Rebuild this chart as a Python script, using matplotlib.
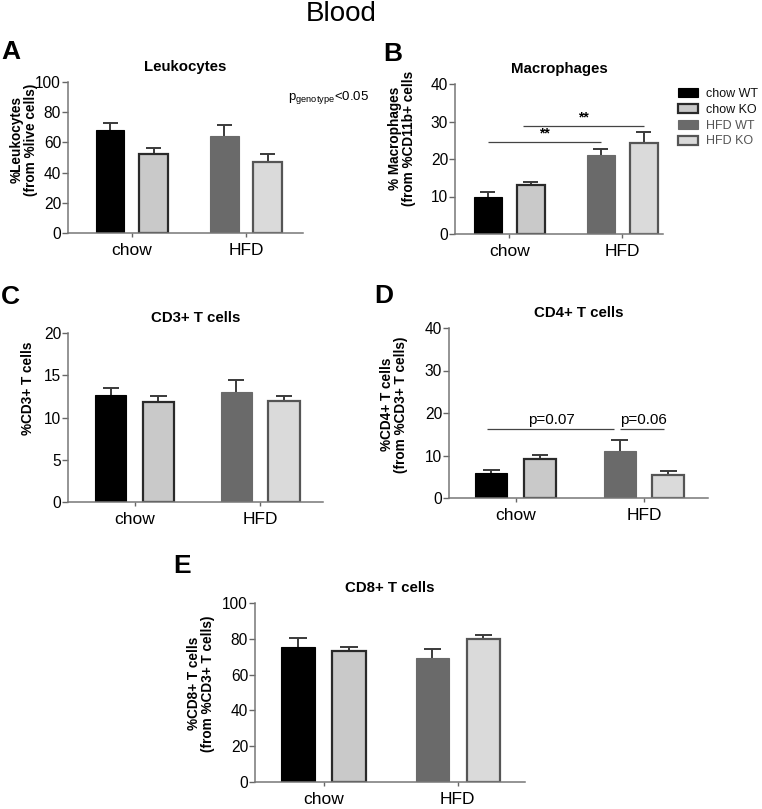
import numpy as np
import matplotlib.pyplot as plt
from matplotlib.patches import Patch

plt.rcParams['font.family'] = ['Liberation Sans', 'DejaVu Sans']
plt.rcParams['mathtext.default'] = 'regular'

groups = ['chow', 'HFD']
series = ['chow WT', 'chow KO', 'HFD WT', 'HFD KO']

leuko = [68, 52, 64, 47]
leuko_err = [5, 4, 7.5, 5]
macro = [10, 13, 21.2, 24.2]
macro_err = [1.3, 1.0, 1.6, 3.0]
cd3 = [12.7, 11.8, 13.0, 12.0]
cd3_err = [0.8, 0.7, 1.4, 0.5]
cd4 = [5.8, 9.1, 11.1, 5.5]
cd4_err = [0.7, 1.1, 2.6, 0.8]
cd8 = [75.5, 73, 69, 80]
cd8_err = [5, 2.5, 5.5, 2]

face = ['#000000', '#c9c9c9', '#6a6a6a', '#dadada']
edge = ['#000000', '#2a2a2a', '#6a6a6a', '#555555']

W, H = 762, 809
fig = plt.figure(figsize=(W / 100, H / 100), dpi=100)


def add_ax(l, t, r, b):
    return fig.add_axes([l / W, 1 - b / H, (r - l) / W, (b - t) / H])


def bars(ax, vals, errs, ymax, step, xlim, title, ylabel, lab_x, lab_y):
    x = np.array([-0.19, 0.19, 0.81, 1.19])
    ax.vlines(x, vals, np.array(vals) + np.array(errs), color='#3a3a3a', lw=1.4, zorder=1)
    ax.hlines(np.array(vals) + np.array(errs), x - 0.065, x + 0.065, color='#3a3a3a', lw=1.4, zorder=1)
    for i in range(4):
        ax.bar(x[i], vals[i], width=0.25, color=face[i], edgecolor=edge[i],
               linewidth=1.6 if i in (1, 3) else 0.8, zorder=2)
    ax.set_xlim(*xlim)
    ax.set_ylim(0, ymax)
    ax.set_yticks(np.arange(0, ymax + 0.1, step))
    ax.set_xticks([0, 1])
    ax.set_xticklabels(groups, fontsize=12.5)
    ax.tick_params(axis='y', labelsize=11.2, length=4, color='#666666', width=1, pad=1)
    ax.tick_params(axis='x', length=3, color='#666666', width=1, pad=4)
    for s in ['top', 'right']:
        ax.spines[s].set_visible(False)
    for s in ['left', 'bottom']:
        ax.spines[s].set_color('#777777')
        ax.spines[s].set_linewidth(1.1)
    ax.set_title(title, fontsize=10.8, fontweight='bold', pad=8)
    ax.set_ylabel(ylabel, fontsize=9.8, fontweight='bold', linespacing=1.0,
                  family=['Liberation Sans Narrow', 'Liberation Sans'])
    # label position: right edge at pixel lab_x
    pos = ax.get_position()
    ax.yaxis.set_label_coords((lab_x / W - pos.x0) / pos.width, lab_y)
    return x


axA = add_ax(68, 82, 303, 233)
bars(axA, leuko, leuko_err, 100, 20, (-0.56, 1.5), 'Leukocytes',
     '%Leukocytes\n(from %live cells)', 38, 0.62)
axA.text(1.37, 90, r'p$_{genotype}$<0.05', fontsize=9.5, ha='left', va='center')

axB = add_ax(455, 84, 663, 234)
xb = bars(axB, macro, macro_err, 40, 10, (-0.48, 1.36), 'Macrophages',
          '% Macrophages\n(from %CD11b+ cells', 416, 0.64)
axB.hlines(24.5, xb[0], xb[2], color='#444444', lw=0.9)
axB.text((xb[0] + xb[2]) / 2, 25.0, '**', ha='center', va='bottom', fontsize=10, fontweight='bold')
axB.hlines(28.8, xb[1] - 0.07, xb[3], color='#444444', lw=0.9)
axB.text((xb[1] - 0.07 + xb[3]) / 2, 29.3, '**', ha='center', va='bottom', fontsize=10, fontweight='bold')

axC = add_ax(68, 333, 323, 502)
bars(axC, cd3, cd3_err, 20, 5, (-0.53, 1.5), 'CD3+ T cells', '%CD3+ T cells', 35, 0.67)

axD = add_ax(449, 328, 708, 498)
xd = bars(axD, cd4, cd4_err, 40, 10, (-0.52, 1.5), 'CD4+ T cells',
          '%CD4+ T cells\n(from %CD3+ T cells)', 408, 0.55)
axD.hlines(16.2, xd[0] - 0.03, xd[2] - 0.04, color='#444444', lw=0.9)
axD.text((xd[0] + xd[2]) / 2 - 0.03, 16.7, 'p=0.07', ha='center', va='bottom', fontsize=11)
axD.hlines(16.2, xd[2], xd[3] - 0.03, color='#444444', lw=0.9)
axD.text((xd[2] + xd[3]) / 2, 16.7, 'p=0.06', ha='center', va='bottom', fontsize=11)

axE = add_ax(255, 603, 525, 782)
bars(axE, cd8, cd8_err, 100, 20, (-0.51, 1.5), 'CD8+ T cells',
     '%CD8+ T cells\n(from %CD3+ T cells)', 215, 0.55)

fig.text(341 / W, 1 - 14 / H, 'Blood', fontsize=20, ha='center', va='center')
for lab, px, py in [('A', 11, 52), ('B', 393, 54), ('C', 10, 297), ('D', 384, 296), ('E', 182, 566)]:
    fig.text(px / W, 1 - py / H, lab, fontsize=19, fontweight='bold', ha='center', va='center')

handles = [Patch(facecolor=face[i], edgecolor=edge[i], linewidth=1.6 if i in (1, 3) else 0.8)
           for i in range(4)]
leg = fig.legend(handles, series, loc='upper left', bbox_to_anchor=(672 / W, 1 - 82 / H),
                 frameon=False, fontsize=9, handlelength=1.6, handleheight=0.75,
                 labelspacing=0.3, handletextpad=0.6, borderpad=0)
for t, c in zip(leg.get_texts(), ['#111111', '#111111', '#555555', '#555555']):
    t.set_color(c)

fig.savefig('out.png', dpi=100)
